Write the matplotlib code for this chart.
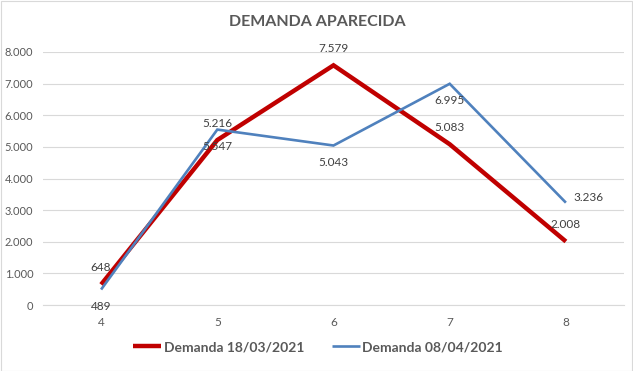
import matplotlib
matplotlib.use("Agg")
import matplotlib.pyplot as plt
from matplotlib.patches import Rectangle

plt.rcParams['font.family'] = ['Lato', 'DejaVu Sans']

weeks = [4, 5, 6, 7, 8]
demanda_1803 = [648, 5216, 7579, 5083, 2008]
demanda_0804 = [489, 5547, 5043, 6995, 3236]
series_names = ["Demanda 18/03/2021", "Demanda 08/04/2021"]
y_ticks = [0, 1000, 2000, 3000, 4000, 5000, 6000, 7000, 8000]


def fmt(v):
    return f"{v:,}".replace(",", ".")


fig = plt.figure(figsize=(6.33, 3.71), dpi=100)
ax = fig.add_axes([43 / 633, 1 - 305 / 371, 581 / 633, 253 / 371])

red = "#C00000"
blue = "#4F81BD"
txt = "#404040"

ax.plot(weeks, demanda_1803, color=red, lw=3.2, solid_capstyle="butt",
        solid_joinstyle="miter", label=series_names[0], zorder=3)
ax.plot(weeks, demanda_0804, color=blue, lw=1.9, solid_capstyle="butt",
        solid_joinstyle="miter", label=series_names[1], zorder=4)

# data labels (red above, blue below, last blue to the right)
for x, v in zip(weeks, demanda_1803):
    ax.annotate(fmt(v), (x, v), xytext=(0, 12), textcoords="offset points",
                ha="center", va="center", fontsize=8.5, color=txt, zorder=5)
for i, (x, v) in enumerate(zip(weeks, demanda_0804)):
    if i == len(weeks) - 1:
        ax.annotate(fmt(v), (x, v), xytext=(16, 4), textcoords="offset points",
                    ha="center", va="center", fontsize=8.5, color=txt, zorder=5)
    else:
        ax.annotate(fmt(v), (x, v), xytext=(0, -12), textcoords="offset points",
                    ha="center", va="center", fontsize=8.5, color=txt, zorder=5)

ax.set_xlim(3.5, 8.5)
ax.set_ylim(0, 8000)
ax.set_xticks(weeks)
ax.set_yticks(y_ticks)
ax.set_yticklabels([fmt(v) for v in y_ticks])
ax.grid(axis="y", color="#D9D9D9", lw=0.8)
ax.set_axisbelow(True)
for s in ["top", "right", "left"]:
    ax.spines[s].set_visible(False)
ax.spines["bottom"].set_color("#D9D9D9")
ax.spines["bottom"].set_linewidth(0.8)
ax.tick_params(length=0, labelsize=8.5, labelcolor="#595959")
ax.tick_params(axis="y", pad=7, labelsize=8)
ax.tick_params(axis="x", pad=9)
for lab in ax.get_yticklabels():
    lab.set_ha("right")

fig.text(317 / 633, 1 - 22 / 371, "DEMANDA APARECIDA", ha="center", va="center",
         fontsize=11.5, fontweight="bold", color="#595959")

leg = fig.legend(loc="center", bbox_to_anchor=(318 / 633, 1 - 347 / 371), ncol=2,
                 frameon=False, handlelength=2.0, handletextpad=0.2,
                 columnspacing=2.0, prop={"weight": "bold", "size": 10})
for t in leg.get_texts():
    t.set_color("#595959")

fig.patches.append(Rectangle((0.5 / 633, 0.5 / 371), 1 - 1.5 / 633, 1 - 1.5 / 371,
                             transform=fig.transFigure, fill=False,
                             edgecolor="#D9D9D9", lw=0.8))

fig.savefig("out.png", dpi=100, facecolor="white")
